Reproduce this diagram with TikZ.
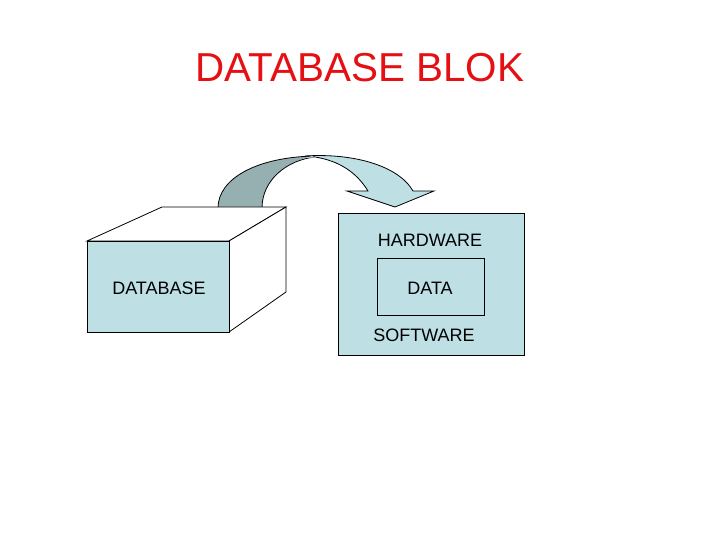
\documentclass[tikz,border=0pt]{standalone}
\usepackage{fontspec}
\setmainfont{Liberation Sans}
\definecolor{lightcyan}{RGB}{190,224,228}
\definecolor{darkteal}{RGB}{150,176,178}
\definecolor{titlered}{RGB}{228,16,20}
\begin{document}
\begin{tikzpicture}[x=1pt,y=-1pt,
  outl/.style={draw=black,line width=0.8pt,line join=miter},
  lbl/.style={font=\fontsize{18}{21}\selectfont,inner sep=0pt}]
\useasboundingbox[fill=white] (0,0) rectangle (720,540);
% title
\node[font=\fontsize{40.4}{46}\selectfont,text=titlered,inner sep=0pt] (title) at (360,68) {DATABASE BLOK};
% curved arrow: dark back part
\fill[darkteal] (218,208) .. controls (218,178) and (258,157) .. (315,156)
  .. controls (287,160) and (262,180) .. (262,208) -- cycle;
\draw[outl] (218,208) .. controls (218,178) and (258,157) .. (315,156);
\draw[outl] (262,208) .. controls (262,180) and (287,160) .. (315,157);
% light front part
\filldraw[outl,fill=lightcyan] (305,156) .. controls (352,153) and (398,165) .. (413,191)
  -- (434,191) -- (395,207) -- (347,191) -- (368,191)
  .. controls (357,173) and (340,161) .. (315,157) -- cycle;
\fill[lightcyan] (306,157.5) -- (316,157.6) -- (312,156) -- cycle;
% cube
\filldraw[outl,fill=white] (87,241) -- (162,207) -- (286,207) -- (229,241) -- cycle;
\filldraw[outl,fill=white] (229,241) -- (286,207) -- (286,292) -- (229,332) -- cycle;
\node[outl,fill=lightcyan,minimum width=142pt,minimum height=91pt,inner sep=0pt,anchor=north west] (db) at (87,241) {};
\node[lbl] (dbl) at (159,288) {DATABASE};
% right box
\node[outl,fill=lightcyan,minimum width=186pt,minimum height=142pt,inner sep=0pt,anchor=north west] (hw) at (338,213) {};
\node[outl,fill=lightcyan,minimum width=107pt,minimum height=57pt,inner sep=0pt,anchor=north west] (data) at (377,258) {};
\node[lbl] (hwl) at (430,240) {HARDWARE};
\node[lbl] (datal) at (430,288) {DATA};
\node[lbl] (swl) at (424,335) {SOFTWARE};
\end{tikzpicture}
\end{document}
